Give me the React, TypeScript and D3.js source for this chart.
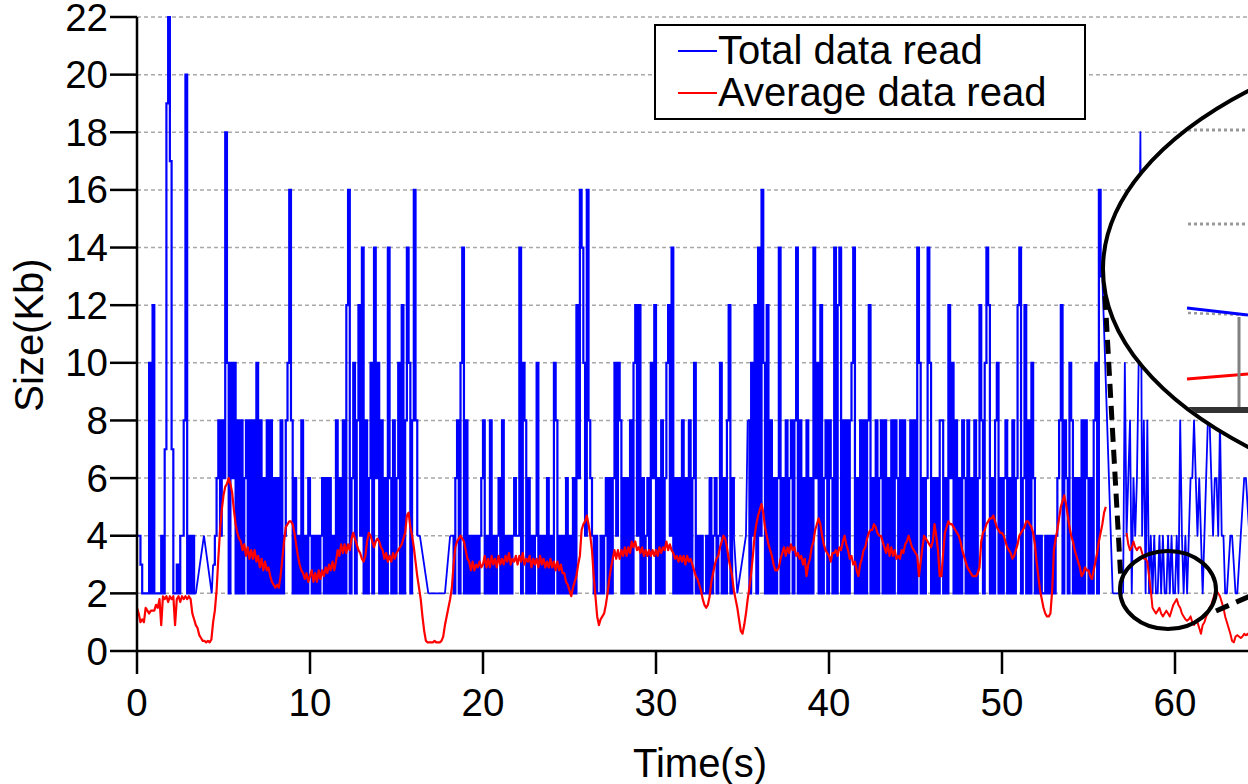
import React, { useEffect } from 'react';
import * as d3 from 'd3';

const X_TICKS = [0, 10, 20, 30, 40, 50, 60];
const Y_TICKS = [0, 2, 4, 6, 8, 10, 12, 14, 16, 18, 20, 22];
const SERIES_NAMES = ['Total data read', 'Average data read'];
const X_LABEL = 'Time(s)';
const Y_LABEL = 'Size(Kb)';

// Total data read: [start time (s), values sampled every 0.1 s, one base-36 char per sample, in Kb]
const BLUE_SEGMENTS: [number, string][] = [
  [0, '4432222a2c' + '2222427jmh' + '72232448k2' + '42422'],
  [3.87, '4'],
  [4.32, '2'],
  [4.4, '346848' + '6ia2a6a282' + '826828282a' + '2826282826' + '2628248ag8' + '2624282426' +
    '4242424626' + '2624282628' + '2cg26a28c4' + 'e2826a2e6a' + '28262e6282' + '6a2c28ea28' + 'g84'],
  [16.35, '4'],
  [16.84, '2'],
  [17.8, '2'],
  [18.1, '4'],
  [18.2, '42682ae2' + '8242424246' + '8242824246' + '2824242464' + '4e2a826242' + '4a24242624' +
    '2a82424262' + '4262c6gea4' + 'g864242242' + '462626a4a8' + '2626282ac4' + 'c262462a6c' +
    '262826ac4e' + '2626282628' + '26a2424224' + '2624624a26' + '28c264'],
  [34.7, '2'],
  [35.2, '4'],
  [35.3, '82a4c2e' + '4ga2c28262' + '6e26282682' + '8e28262826' + '2e6a2c2682' + '862e2ce282' +
    '828ae26282' + '828c262826' + '8282628286' + '2828262828' + '2ea2626ea2' + '626288262c' +
    '6a28262862' + '8262826c82' + 'aec2628a26' + '268262826c' + 'e26c282a62' + '4242242424' +
    '2468c2862a' + '8262628286' + '2628a2gdd'],
  [56.4, '2'],
  [56.9, '2'],
];
// sparser tail of the same series (drawn point to point)
const BLUE_TAIL_START = 57.0;
const BLUE_TAIL = '2a4682646a' + 'i482824242' + '2424224242' + '2428424246' + '6864642468' +
  '8646648442' + '2344322345' + '6654';

// Average data read, Kb, sampled every 0.1 s
const RED_A_START = 0;
const RED_A = [
  1.5, 1.3, 1.0, 1.1, 1.0, 1.5, 1.4, 1.3, 1.4, 1.4,
  1.4, 1.6, 1.5, 1.8, 0.9, 1.9, 1.8, 1.9, 1.7, 1.9,
  1.8, 1.9, 0.9, 1.8, 1.9, 1.7, 1.9, 1.8, 1.9, 1.8,
  1.9, 1.8, 1.3, 1.1, 0.9, 0.8, 0.55, 0.45, 0.35, 0.35,
  0.3, 0.35, 0.3, 0.4, 1.0, 1.4, 2.1, 3.2, 4.2, 4.9,
  5.4, 5.7, 5.8, 6.0, 5.8, 5.5, 4.9, 4.4, 4.1, 3.9,
  3.8, 3.5, 3.7, 3.3, 3.6, 3.2, 3.5, 3.2, 3.5, 3.1,
  3.3, 2.9, 3.2, 2.8, 3.1, 2.8, 2.9, 2.6, 2.4, 2.3,
  2.2, 2.3, 2.2, 2.6, 3.2, 3.8, 4.3, 4.4, 4.5, 4.5,
  4.4, 4.1, 3.7, 3.3, 3.0, 2.8, 2.7, 2.5, 2.7, 2.4,
  2.6, 2.8, 2.4, 2.7, 2.4, 2.8, 2.5, 2.8, 2.6, 2.9,
  2.7, 3.0, 2.8, 3.1, 2.8, 3.1, 3.5, 3.3, 3.7, 3.4,
  3.7, 3.4, 3.7, 3.5, 3.9, 4.1, 3.9, 3.7, 3.5, 3.4,
  3.2, 3.1, 3.3, 3.8, 4.1, 4.0, 3.8, 3.6, 3.8, 3.9,
  3.8, 3.6, 3.5, 3.2, 3.4, 3.1, 3.3, 3.1, 3.4, 3.2,
  3.4, 3.5, 3.6, 3.7, 3.9, 4.1, 4.7, 4.8, 4.3, 4.0,
  3.6, 3.1, 2.6, 2.2, 1.8, 1.2, 0.7, 0.35, 0.3, 0.3,
  0.3, 0.3, 0.35, 0.3, 0.3, 0.3, 0.35, 0.5, 0.9, 1.2,
  1.5, 1.8, 2.2, 3.0, 3.6, 3.8, 3.9, 4.0, 3.9, 3.8,
  3.5, 3.2, 3.1, 2.8, 3.1, 2.8, 3.0, 2.9, 3.1, 2.9,
  3.0, 3.3, 2.9, 3.2, 2.9, 3.3, 3.0, 3.2, 2.9, 3.3,
  3.0, 3.2, 3.0, 3.3, 3.1, 3.4, 3.0, 3.2, 3.1, 3.3,
  3.0, 3.3, 3.1, 3.4, 3.0, 3.2, 3.1, 3.3, 2.9, 3.2,
  3.0, 3.2, 2.9, 3.3, 3.0, 3.2, 2.9, 3.1, 2.9, 3.2,
  2.9, 3.1, 2.8, 3.1, 2.8, 3.0, 2.7, 2.7, 2.4, 2.3,
  2.1, 1.9, 2.2, 2.4, 2.6, 3.0, 3.3, 4.2, 4.4, 4.5,
  4.7, 4.4, 4.0, 3.5, 2.6, 1.9, 1.2, 0.9, 1.1, 1.2,
  1.3, 1.6, 2.0, 2.5, 2.9, 3.2, 3.5, 3.2, 3.5, 3.2,
  3.5, 3.3, 3.6, 3.3, 3.6, 3.4, 3.8, 3.6, 3.8, 3.5,
  3.6, 3.4, 3.6, 3.3, 3.5, 3.3, 3.5, 3.3, 3.5, 3.3,
  3.5, 3.3, 3.6, 3.4, 3.6, 3.5, 3.8, 3.5, 3.7, 3.5,
  3.4, 3.2, 3.3, 3.1, 3.3, 3.1, 3.3, 3.0, 3.3, 3.1,
  3.2, 3.0, 2.8, 2.6, 2.5, 2.3, 2.1, 1.8, 1.6, 1.5,
  1.6, 1.9, 2.4, 2.7, 3.0, 3.2, 3.3, 3.6, 3.8, 4.0,
  3.9, 3.6, 3.2, 2.9, 2.6, 2.1, 1.8, 1.5, 1.1, 0.7,
  0.6, 0.9, 1.3, 1.8, 2.2, 2.7, 3.3, 4.0, 4.4, 4.7,
  4.9, 5.1, 4.8, 4.3, 4.0, 3.7, 3.5, 3.3, 3.0, 2.8,
  2.8, 2.9, 3.2, 3.4, 3.6, 3.3, 3.6, 3.4, 3.7, 3.5,
  3.6, 3.3, 3.4, 3.2, 3.3, 3.0, 3.2, 2.6, 3.0, 3.2,
  3.6, 3.8, 4.2, 4.4, 4.6, 4.4, 4.0, 3.7, 3.5, 3.4,
  3.3, 3.1, 3.4, 3.4, 3.5, 3.3, 3.6, 3.5, 3.8, 4.0,
  3.7, 3.5, 3.2, 3.3, 3.0, 3.1, 2.8, 2.6, 3.0, 3.2,
  3.5, 3.6, 3.9, 4.1, 4.2, 4.2, 4.4, 4.3, 4.1, 4.0,
  4.0, 3.8, 3.6, 3.4, 3.7, 3.3, 3.6, 3.3, 3.5, 3.2,
  3.3, 3.2, 3.5, 3.4, 3.7, 3.8, 4.0, 3.8, 3.6, 3.5,
  3.4, 3.3, 2.6, 3.1, 3.6, 4.0, 3.9, 3.8, 3.7, 3.6,
  3.8, 4.4, 4.0, 3.5, 2.6, 2.6, 3.4, 4.1, 4.3, 4.5,
  4.4, 4.4, 4.3, 4.2, 4.1, 4.0, 3.8, 3.5, 3.3, 3.1,
  2.9, 2.8, 2.7, 2.6, 2.6, 2.6, 2.7, 2.9, 3.8, 4.1,
  4.2, 4.4, 4.5, 4.6, 4.6, 4.7, 4.5, 4.3, 4.2, 4.1,
  4.1, 4.0, 3.8, 3.6, 3.5, 3.4, 3.2, 3.3, 3.5, 3.7,
  4.0, 4.1, 4.2, 4.3, 4.5, 4.5, 4.4, 4.3, 4.1, 3.7,
  3.1, 2.6, 2.1, 1.8, 1.5, 1.3, 1.2, 1.2, 1.3, 2.1,
  3.5, 3.9, 4.2, 4.6, 5.0, 5.2, 5.4, 5.1, 4.7, 4.3,
  4.0, 3.8, 3.5, 3.3, 3.1, 2.9, 2.6, 2.7, 2.9, 2.8,
  2.8, 2.6, 2.5, 2.8, 3.1, 3.4, 3.8, 4.1, 4.4, 4.8,
  5.0,
];
const RED_B_START = 57.2;
const RED_B = [
  4.1, 3.7, 3.5, 3.6, 3.8, 3.6, 3.5, 3.6,
  3.6, 3.4, 3.2, 3.2, 3.1, 2.6, 2.1, 1.5, 1.4, 1.3,
  1.4, 1.5, 1.3, 1.2, 1.3, 1.4, 1.3, 1.2, 1.4, 1.6,
  1.7, 1.8, 1.6, 1.5, 1.3, 1.2, 1.1, 1.05, 1.1, 1.2,
  1.0, 0.9, 1.05, 1.0, 0.8, 0.6, 0.9, 1.0, 1.2, 1.3,
  1.5, 1.6, 1.8, 2.0, 2.1, 2.0, 1.9, 1.7, 1.5, 1.2,
  1.0, 0.8, 0.6, 0.35, 0.3, 0.5, 0.55, 0.5, 0.45, 0.5,
  0.6, 0.55, 0.6, 0.5,
];

const W = 1248;
const H = 784;
const FONT = '"Liberation Sans", Arial, Helvetica, sans-serif';

type Pt = [number, number];

function decode(t0: number, codes: string): Pt[] {
  const pts: Pt[] = [];
  for (let k = 0; k < codes.length; k++) pts.push([t0 + k * 0.1, parseInt(codes[k], 36)]);
  return pts;
}

function expandValues(t0: number, vals: number[]): Pt[] {
  return vals.map((v, k) => [t0 + k * 0.1, v] as Pt);
}

export default function App() {
  useEffect(() => {
    document.body.style.margin = '0';
    document.body.style.overflow = 'hidden';
  }, []);

  const x = d3.scaleLinear().domain([0, 60]).range([137, 1175]);
  const y = d3.scaleLinear().domain([0, 22]).range([651, 17]);
  const line = d3.line<Pt>().x((d) => x(d[0])).y((d) => y(d[1]));
  const stepLine = d3.line<Pt>().x((d) => x(d[0])).y((d) => y(d[1])).curve(d3.curveStepAfter);

  const segs = BLUE_SEGMENTS.map(([t0, c]) => decode(t0, c));
  const tail = decode(BLUE_TAIL_START, BLUE_TAIL);
  const densePaths = segs.filter((s) => s.length > 1).map((s) => stepLine(s) || '');
  const chain: Pt[][] = [...segs, tail];
  let connectors = '';
  for (let i = 0; i < chain.length - 1; i++) {
    const a = chain[i][chain[i].length - 1];
    const b = chain[i + 1][0];
    connectors += `M${x(a[0])},${y(a[1])}L${x(b[0])},${y(b[1])}`;
  }
  const redA = expandValues(RED_A_START, RED_A);
  const redB = expandValues(RED_B_START, RED_B);

  // magnifier geometry (annotation)
  const big = { cx: 1663, cy: 269, rx: 560, ry: 265 };
  const small = { cx: 1168, cy: 590, rx: 48, ry: 39 };

  return (
    <svg width={W} height={H} style={{ position: 'absolute', left: 0, top: 0, background: '#fff' }}
      fontFamily={FONT}>
      <defs>
        <clipPath id="bigclip">
          <ellipse cx={big.cx} cy={big.cy} rx={big.rx - 2} ry={big.ry - 2} />
        </clipPath>
      </defs>
      <rect x={0} y={0} width={W} height={H} fill="#fff" />
      {Y_TICKS.filter((v) => v > 0).map((v) => (
        <line key={'g' + v} x1={x(0)} x2={W} y1={y(v)} y2={y(v)} stroke="#a8a8a8"
          strokeWidth={1.5} strokeDasharray="4,3" />
      ))}
      {densePaths.map((d, i) => (
        <path key={'b' + i} d={d} fill="none" stroke="#0000ff" strokeWidth={2.2} />
      ))}
      <path d={connectors} fill="none" stroke="#0000ff" strokeWidth={1.8} />
      <path d={line(tail) || ''} fill="none" stroke="#0000ff" strokeWidth={1.8} strokeLinejoin="round" />
      <path d={line(redA) || ''} fill="none" stroke="#ff0000" strokeWidth={2.2} strokeLinejoin="round" />
      <path d={line(redB) || ''} fill="none" stroke="#ff0000" strokeWidth={2} strokeLinejoin="round" />
      <line x1={x(0)} x2={x(0)} y1={y(22)} y2={y(0)} stroke="#000" strokeWidth={2.5} />
      <line x1={x(0)} x2={W} y1={y(0)} y2={y(0)} stroke="#000" strokeWidth={2.5} />
      {Y_TICKS.map((v) => (
        <g key={'yt' + v}>
          <line x1={x(0) - 27} x2={x(0)} y1={y(v)} y2={y(v)} stroke="#000" strokeWidth={2.5} />
          <text x={x(0) - 29} y={y(v) + 13.5} fontSize={38.5} textAnchor="end" fill="#000">{v}</text>
        </g>
      ))}
      {X_TICKS.map((v) => (
        <g key={'xt' + v}>
          <line x1={x(v)} x2={x(v)} y1={y(0)} y2={y(0) + 23} stroke="#000" strokeWidth={2.5} />
          <text x={x(v)} y={716} fontSize={38.5} textAnchor="middle" fill="#000">{v}</text>
        </g>
      ))}
      <text x={700} y={777} fontSize={40} textAnchor="middle" fill="#000">{X_LABEL}</text>
      <text transform="translate(43,335) rotate(-90)" fontSize={40} textAnchor="middle" fill="#000">{Y_LABEL}</text>
      <rect x={655} y={25} width={430} height={94} fill="#fff" stroke="#000" strokeWidth={2} />
      <line x1={678} x2={717} y1={51} y2={51} stroke="#0000ff" strokeWidth={2} />
      <text x={718} y={64} fontSize={40} fill="#000">{SERIES_NAMES[0]}</text>
      <line x1={678} x2={717} y1={93} y2={93} stroke="#ff0000" strokeWidth={2} />
      <text x={718} y={106} fontSize={40} fill="#000">{SERIES_NAMES[1]}</text>
      <ellipse cx={big.cx} cy={big.cy} rx={big.rx} ry={big.ry} fill="#fff" stroke="none" />
      <g clipPath="url(#bigclip)">
        <line x1={1188} x2={W} y1={130} y2={130} stroke="#999" strokeWidth={3} strokeDasharray="3,3" />
        <line x1={1188} x2={W} y1={224} y2={224} stroke="#999" strokeWidth={3} strokeDasharray="3,3" />
        <line x1={1188} x2={W} y1={313} y2={315} stroke="#999" strokeWidth={2.5} strokeDasharray="3,3" />
        <line x1={1187} x2={W} y1={308} y2={315} stroke="#0000ff" strokeWidth={3} />
        <line x1={1187} x2={W} y1={379} y2={374} stroke="#ff0000" strokeWidth={3} />
        <line x1={1239} x2={1239} y1={317} y2={408} stroke="#808080" strokeWidth={3} />
        <line x1={1188} x2={W} y1={410} y2={410} stroke="#333" strokeWidth={6} />
      </g>
      <ellipse cx={big.cx} cy={big.cy} rx={big.rx} ry={big.ry} fill="none" stroke="#000" strokeWidth={4} />
      <ellipse cx={small.cx} cy={small.cy} rx={small.rx} ry={small.ry} fill="none" stroke="#000" strokeWidth={4} />
      <line x1={1105} y1={296} x2={1121} y2={582} stroke="#000" strokeWidth={5} strokeDasharray="14,8" />
      <line x1={1216} y1={611} x2={1275} y2={585} stroke="#000" strokeWidth={5} strokeDasharray="14,8" />
    </svg>
  );
}
